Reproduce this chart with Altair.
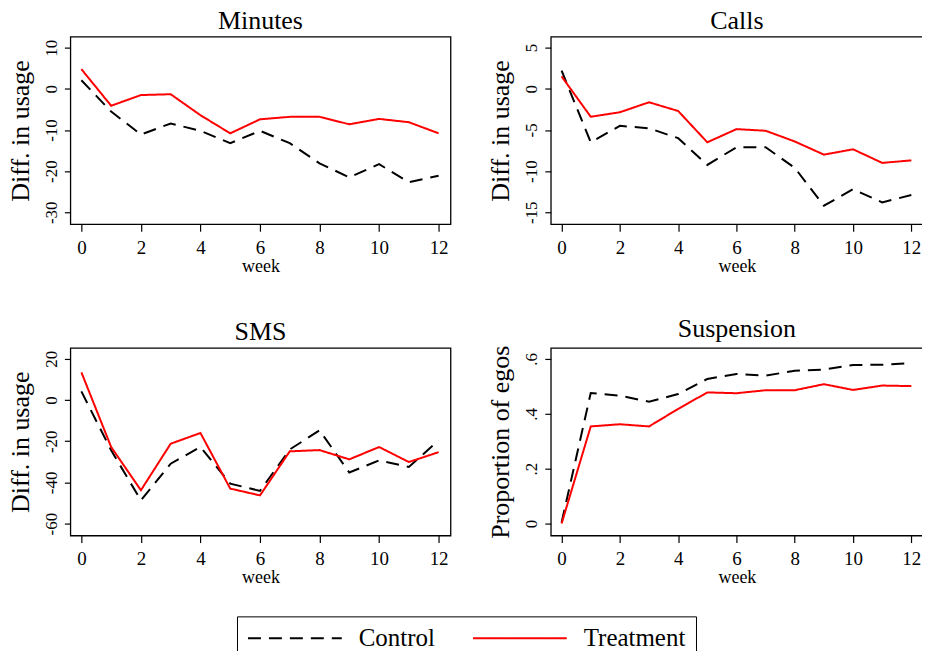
import altair as alt
import pandas as pd

weeks = list(range(13))
groups = ["Control", "Treatment"]

minutes_control = [2.1, -5.5, -11.1, -8.4, -10.2, -13.2, -10.2, -13.2, -18.1, -21.5, -18.3, -22.7, -21.1]
minutes_treatment = [4.8, -4.1, -1.5, -1.3, -6.4, -10.8, -7.4, -6.8, -6.8, -8.6, -7.3, -8.1, -10.8]
calls_control = [2.2, -6.5, -4.5, -4.8, -6.0, -9.25, -7.1, -7.1, -9.6, -14.2, -12.2, -13.8, -12.9]
calls_treatment = [1.5, -3.4, -2.85, -1.64, -2.7, -6.5, -4.9, -5.1, -6.4, -8.0, -7.35, -9.0, -8.7]
sms_control = [4.2, -24.4, -48.7, -30.9, -22.8, -40.6, -44.1, -24.0, -14.7, -35.2, -29.3, -32.5, -19.6]
sms_treatment = [13.5, -22.8, -43.8, -21.2, -16.0, -43.0, -46.3, -24.9, -24.3, -28.8, -22.8, -30.1, -25.3]
susp_control = [0.004, 0.476, 0.466, 0.444, 0.472, 0.527, 0.545, 0.539, 0.557, 0.561, 0.578, 0.579, 0.585]
susp_treatment = [0.0, 0.354, 0.362, 0.354, 0.418, 0.478, 0.475, 0.486, 0.486, 0.508, 0.487, 0.503, 0.501]

week_ticks = [0, 2, 4, 6, 8, 10, 12]
minutes_ticks = [-30, -20, -10, 0, 10]
calls_ticks = [-15, -10, -5, 0, 5]
sms_ticks = [-60, -40, -20, 0, 20]
susp_ticks = [0, 0.2, 0.4, 0.6]

FONT = "Liberation Serif"

legend = alt.Legend(
    title=None, orient="none", legendX=167, legendY=581, direction="horizontal",
    symbolType="stroke", symbolSize=8836, symbolStrokeWidth=2, clipHeight=24,
    labelFont=FONT, labelFontSize=25, labelColor="black", labelOffset=16,
    columnPadding=36.5, padding=10, strokeColor="black", labelLimit=300,
)


def panel(title, ctrl, trt, ytitle, domain, ticks, width, ytitle_size=26,
          label_expr="replace(datum.label, '\u2212', '-')"):
    df = pd.DataFrame({
        "week": weeks * 2,
        "value": ctrl + trt,
        "group": [groups[0]] * len(weeks) + [groups[1]] * len(weeks),
    })
    return alt.Chart(df, title=alt.TitleParams(
        title, fontSize=26, font=FONT, fontWeight="normal", color="black", offset=3,
        anchor="middle", frame="group"
    )).mark_line(strokeWidth=2).encode(
        x=alt.X("week:Q", scale=alt.Scale(domain=[-0.37, 12.4], nice=False, zero=False),
                axis=alt.Axis(title="week", values=week_ticks, labelAngle=0, labelFontSize=19,
                              tickSize=7, labelPadding=7, titleFontSize=18, titlePadding=0)),
        y=alt.Y("value:Q", scale=alt.Scale(domain=domain, nice=False, zero=False),
                axis=alt.Axis(title=ytitle, values=ticks, labelAngle=270, labelAlign="center",
                              labelBaseline="bottom", labelFontSize=17, tickSize=6, labelPadding=4,
                              titleFontSize=ytitle_size, titlePadding=9, labelExpr=label_expr)),
        color=alt.Color("group:N", scale=alt.Scale(domain=groups, range=["black", "#ff0000"]), legend=legend),
        strokeDash=alt.StrokeDash("group:N", scale=alt.Scale(domain=groups, range=[[13, 8], [1, 0]]), legend=legend),
        order=alt.Order("group:N"),
    ).properties(width=width, height=188)


p1 = panel("Minutes", minutes_control, minutes_treatment, "Diff. in usage", [-32.9, 12.7], minutes_ticks, 381)
p2 = panel("Calls", calls_control, calls_treatment, "Diff. in usage", [-16.45, 6.33], calls_ticks, 373)
p3 = panel("SMS", sms_control, sms_treatment, "Diff. in usage", [-65.8, 25.3], sms_ticks, 381)
p4 = panel("Suspension", susp_control, susp_treatment, "Proportion of egos", [-0.0436, 0.64], susp_ticks, 373,
           ytitle_size=26,
           label_expr="datum.value == 0 ? '0' : replace(format(datum.value, '.1f'), '0.', '.')")

base = alt.vconcat(
    alt.hconcat(p1, p2, spacing=35.5),
    alt.hconcat(p3, p4, spacing=35.5),
    spacing=39,
).configure_view(stroke="black", strokeWidth=1.3).configure_axis(
    domain=False, grid=False, labelFont=FONT, titleFont=FONT, labelColor="black", titleColor="black",
    tickColor="black", tickWidth=1.2, titleFontWeight="normal",
)

try:
    chart = base.properties(padding={"left": -1.5, "top": -2, "right": -2.5, "bottom": -12}, background="white")
    chart.to_dict()
except Exception:
    chart = base.properties(padding={"left": 0, "top": 0, "right": 0, "bottom": 0}, background="white")

chart.save("out.html", embed_options={"renderer": "svg", "actions": False})
